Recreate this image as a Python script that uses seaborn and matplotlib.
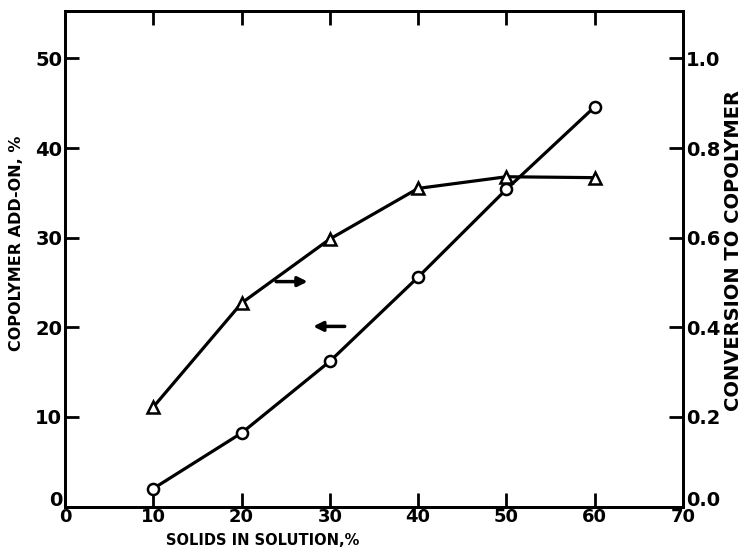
import numpy as np
import pandas as pd
import matplotlib
matplotlib.use("Agg")
import matplotlib.pyplot as plt
import matplotlib.transforms as mtransforms
import seaborn as sns

# data
solids = [10, 20, 30, 40, 50, 60]                     # solids in solution, %
addon = [2.0, 8.2, 16.2, 25.6, 35.4, 44.6]            # copolymer add-on, % (left axis)
conversion = [0.222, 0.454, 0.597, 0.71, 0.736, 0.734]  # conversion to copolymer (right axis)

x_ticks = [0, 10, 20, 30, 40, 50, 60, 70]
left_ticks = [0, 10, 20, 30, 40, 50]
right_ticks = [0.0, 0.2, 0.4, 0.6, 0.8, 1.0]
right_labels = ["0.0", "0.2", "0.4", "0.6", "0.8", "1.0"]

df = pd.DataFrame({"solids": solids, "addon": addon, "conversion": conversion})

sns.set_style("ticks")
plt.rcParams["font.family"] = ["DejaVu Sans"]
plt.rcParams["font.weight"] = "bold"
plt.rcParams["axes.labelcolor"] = "black"

fig = plt.figure(figsize=(7.46, 5.6), dpi=100)
ax = fig.add_axes([0.0871, 0.0955, 0.8284, 0.8849])
ax2 = ax.twinx()

lw = 2.3
sns.lineplot(data=df, x="solids", y="addon", ax=ax, color="black", lw=lw,
             marker="o", markersize=8, markerfacecolor="white",
             markeredgecolor="black", markeredgewidth=1.8)
sns.lineplot(data=df, x="solids", y="conversion", ax=ax2, color="black", lw=lw,
             marker="^", markersize=9, markerfacecolor="white",
             markeredgecolor="black", markeredgewidth=1.8)

ax.set_xlim(0, 70)
ax.set_ylim(0, 55.3)
ax2.set_ylim(0, 1.106)

ax.set_xticks(x_ticks)
ax.set_yticks(left_ticks)
ax2.set_yticks(right_ticks)
ax2.set_yticklabels(right_labels)

for a in (ax, ax2):
    for s in a.spines.values():
        s.set_visible(True)
        s.set_linewidth(2.0)
        s.set_color("black")
ax.tick_params(axis="both", direction="in", length=10, width=2, labelsize=14,
               top=True, colors="black")
ax.tick_params(axis="x", pad=1, labelsize=13)
ax.tick_params(axis="y", pad=2)
ax2.tick_params(axis="y", direction="in", length=10, width=2, labelsize=14,
                pad=2, colors="black")

# the zero labels on both y axes sit a little above their ticks
lift = mtransforms.ScaledTranslation(0, 8 / 100, fig.dpi_scale_trans)
for lab in (ax.get_yticklabels()[0], ax2.get_yticklabels()[0]):
    lab.set_transform(lab.get_transform() + lift)

ax.set_xlabel("SOLIDS IN SOLUTION,%", fontsize=10.5, fontweight="bold")
ax.xaxis.set_label_coords(0.32, -0.054)
ax.xaxis.label.set_va("top")

ax.set_ylabel("COPOLYMER ADD-ON, %", fontsize=11.5, fontweight="bold")
ax.yaxis.label.set_va("center")
ax.yaxis.set_label_coords(-0.078, 0.532)

ax2.set_ylabel("CONVERSION TO COPOLYMER", fontsize=14, fontweight="bold")
ax2.yaxis.label.set_va("center")
ax2.yaxis.set_label_coords(1.081, 0.517)

# direction arrows showing which axis each curve belongs to
ax.annotate("", xy=(27.8, 25.1), xytext=(23.6, 25.1),
            arrowprops=dict(arrowstyle="-|>", color="black", lw=2.5, mutation_scale=14))
ax.annotate("", xy=(27.8, 20.1), xytext=(32.0, 20.1),
            arrowprops=dict(arrowstyle="-|>", color="black", lw=2.5, mutation_scale=14))

fig.savefig("out.png", dpi=100)
